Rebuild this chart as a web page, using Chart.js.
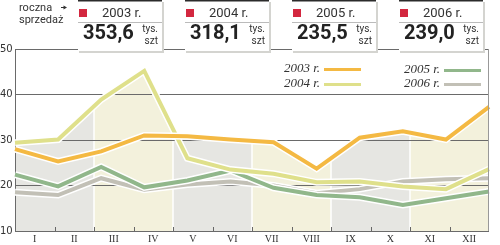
<!DOCTYPE html>
<html>
<head>
<meta charset="utf-8">
<script src="https://cdn.jsdelivr.net/npm/chart.js@4.4.1/dist/chart.umd.min.js"></script>
<style>
  html, body { margin: 0; padding: 0; background: #fff; }
  canvas { display: block; }
</style>
</head>
<body>
<canvas id="chart" width="500" height="245"></canvas>
<script>
// monthly sales, thousands of units
const months = ['I', 'II', 'III', 'IV', 'V', 'VI', 'VII', 'VIII', 'IX', 'X', 'XI', 'XII'];
const sales2003 = [28.0, 25.3, 27.5, 31.0, 30.8, 30.1, 29.5, 23.7, 30.5, 31.9, 30.1, 37.3];
const sales2004 = [29.4, 30.1, 38.9, 45.2, 26.0, 23.5, 22.6, 20.7, 20.9, 19.8, 19.2, 23.6];
const sales2005 = [22.4, 19.8, 24.1, 19.6, 21.1, 23.3, 19.5, 17.9, 17.4, 15.7, 17.2, 18.7];
const sales2006 = [18.5, 17.9, 21.6, 19.1, 20.2, 20.9, 20.0, 18.3, 19.2, 20.9, 21.4, 21.6];
const yearLabels = ['2003 r.', '2004 r.', '2005 r.', '2006 r.'];
const yearTotals = ['353,6', '318,1', '235,5', '239,0'];
const yTicks = [10, 20, 30, 40, 50];

const lineColors = ['#f4b943', '#dfe08b', '#91b78b', '#c2c0b6'];
const bandColors = ['#e6e6e2', '#f3f1dc'];

// white halo under each line + band shading under the top envelope
const decor = {
    id: 'decor',
    beforeDraw(chart) {
        const ctx = chart.ctx;
        const area = chart.chartArea;
        const xl = chart.scales.xl;
        ctx.save();
        ctx.fillStyle = '#fff';
        ctx.fillRect(0, 0, chart.width, chart.height);

        // upper envelope of all lines, column by column
        const metas = chart.data.datasets.map((d, i) => chart.getDatasetMeta(i).data);
        ctx.beginPath();
        ctx.moveTo(area.left, area.bottom);
        for (let px = area.left; px <= area.right; px += 0.5) {
            let top = area.bottom;
            metas.forEach((pts) => {
                for (let k = 0; k < pts.length - 1; k++) {
                    const a = pts[k], b = pts[k + 1];
                    if (px >= a.x && px <= b.x) {
                        const t = (px - a.x) / (b.x - a.x);
                        top = Math.min(top, a.y + (b.y - a.y) * t);
                        break;
                    }
                }
            });
            ctx.lineTo(px, top);
        }
        ctx.lineTo(area.right, area.bottom);
        ctx.closePath();
        ctx.clip();

        for (let g = 0; g < 6; g++) {
            const x0 = xl.getPixelForValue(g * 2 - 0.5);
            const x1 = xl.getPixelForValue(g * 2 + 1.5);
            ctx.fillStyle = bandColors[g % 2];
            ctx.fillRect(x0, area.top, x1 - x0, area.bottom - area.top);
        }
        ctx.strokeStyle = '#fff';
        ctx.lineWidth = 1.5;
        for (let g = 1; g < 6; g++) {
            const x = xl.getPixelForValue(g * 2 - 0.5);
            ctx.beginPath();
            ctx.moveTo(x, area.top);
            ctx.lineTo(x, area.bottom);
            ctx.stroke();
        }
        ctx.restore();
    },
    beforeDatasetDraw(chart, args) {
        const ctx = chart.ctx;
        const pts = args.meta.data;
        ctx.save();
        ctx.strokeStyle = '#fff';
        ctx.lineWidth = 7;
        ctx.lineJoin = 'miter';
        ctx.beginPath();
        pts.forEach((p, k) => k ? ctx.lineTo(p.x, p.y) : ctx.moveTo(p.x, p.y));
        ctx.stroke();
        ctx.restore();
    },
    afterDraw(chart) {
        const ctx = chart.ctx;
        const area = chart.chartArea;
        const xl = chart.scales.xl;
        ctx.save();

        // tick marks between months, right border
        ctx.strokeStyle = '#666';
        ctx.lineWidth = 1;
        for (let i = 1; i < months.length; i++) {
            const x = Math.round(xl.getPixelForValue(i - 0.5)) + 0.5;
            ctx.beginPath();
            ctx.moveTo(x, area.bottom - 4);
            ctx.lineTo(x, area.bottom);
            ctx.stroke();
        }
        ctx.strokeStyle = '#999';
        ctx.beginPath();
        ctx.moveTo(Math.round(area.right) - 0.5, area.top);
        ctx.lineTo(Math.round(area.right) - 0.5, area.bottom);
        ctx.stroke();

        // legend inside the plot
        const legendPos = [[320, 69], [320, 84], [440, 70], [440, 84]];
        ctx.font = 'italic 13px "Liberation Serif"';
        ctx.textBaseline = 'middle';
        chart.data.datasets.forEach((ds, i) => {
            const [x, y] = legendPos[i];
            ctx.fillStyle = '#333';
            ctx.textAlign = 'right';
            ctx.fillText(ds.label, x, y);
            ctx.strokeStyle = ds.borderColor;
            ctx.lineWidth = 3;
            ctx.beginPath();
            ctx.moveTo(x + 4, y + 0.5);
            ctx.lineTo(x + 41, y + 0.5);
            ctx.stroke();
        });

        // header: "roczna sprzedaż" and the four yearly boxes
        ctx.fillStyle = '#333';
        ctx.textAlign = 'left';
        ctx.font = '11px Roboto';
        ctx.fillText('roczna', 19, 8);
        ctx.fillText('sprzedaż', 19, 20);
        ctx.strokeStyle = '#333';
        ctx.lineWidth = 1;
        ctx.beginPath();
        ctx.moveTo(61, 7.5);
        ctx.lineTo(65, 7.5);
        ctx.stroke();
        ctx.beginPath();
        ctx.moveTo(67, 7.5);
        ctx.lineTo(63.5, 5.5);
        ctx.lineTo(63.5, 9.5);
        ctx.closePath();
        ctx.fill();

        yearLabels.forEach((lab, i) => {
            const bx = 78 + i * 107;
            const bw = 84;
            // shadow
            ctx.fillStyle = '#d4d4d0';
            ctx.fillRect(bx + 1, 2, bw + 1, 51);
            ctx.fillStyle = '#fff';
            ctx.fillRect(bx, 0, bw, 51);
            ctx.fillStyle = '#2b2b2b';
            ctx.fillRect(bx, 0, bw, 1.5);
            ctx.fillStyle = '#d3273f';
            ctx.fillRect(bx + 1, 9, 8, 8);
            ctx.fillStyle = '#333';
            ctx.font = '13px Roboto';
            ctx.textBaseline = 'middle';
            ctx.fillText(lab, bx + 24, 14);
            ctx.fillStyle = '#bbb';
            ctx.fillRect(bx, 22, bw, 1);
            ctx.fillStyle = '#222';
            ctx.font = 'bold 20px Roboto';
            ctx.fillText(yearTotals[i], bx + 5, 34);
            ctx.fillStyle = '#333';
            ctx.font = '10px Roboto';
            ctx.textAlign = 'right';
            ctx.fillText('tys.', bx + 80, 29);
            ctx.fillText('szt', bx + 80, 41);
            ctx.textAlign = 'left';
        });
        ctx.restore();
    }
};

new Chart(document.getElementById('chart'), {
    type: 'line',
    data: {
        datasets: [sales2003, sales2004, sales2005, sales2006].map((vals, i) => ({
            label: yearLabels[i],
            data: vals,
            borderColor: lineColors[i],
            borderWidth: 4,
            pointRadius: 0,
            tension: 0,
            fill: false,
            xAxisID: 'x',
            yAxisID: 'y'
        }))
    },
    options: {
        responsive: false,
        devicePixelRatio: 1,
        animation: false,
        layout: {padding: {top: 49, right: 11, left: 0, bottom: 0}},
        plugins: {legend: {display: false}, tooltip: {enabled: false}},
        scales: {
            x: {type: 'category', labels: months, offset: false, display: false},
            xl: {
                type: 'category',
                labels: months,
                offset: true,
                position: 'bottom',
                grid: {display: false, drawTicks: false},
                border: {display: false},
                ticks: {
                    font: {family: '"Liberation Serif"', size: 10},
                    color: '#333',
                    padding: 2,
                    maxRotation: 0,
                    autoSkip: false
                },
                afterFit(s) { s.height = 14; }
            },
            y: {
                min: yTicks[0],
                max: yTicks[yTicks.length - 1],
                afterBuildTicks(s) { s.ticks = yTicks.map((v) => ({value: v})); },
                ticks: {
                    font: {family: '"DejaVu Sans"', size: 10},
                    color: '#333',
                    crossAlign: 'far'
                },
                grid: {color: '#6a6a6a', lineWidth: 1, drawTicks: false},
                border: {display: true, color: '#6a6a6a'},
                afterFit(s) { s.width = 15; }
            }
        }
    },
    plugins: [decor]
});
</script>
</body>
</html>
